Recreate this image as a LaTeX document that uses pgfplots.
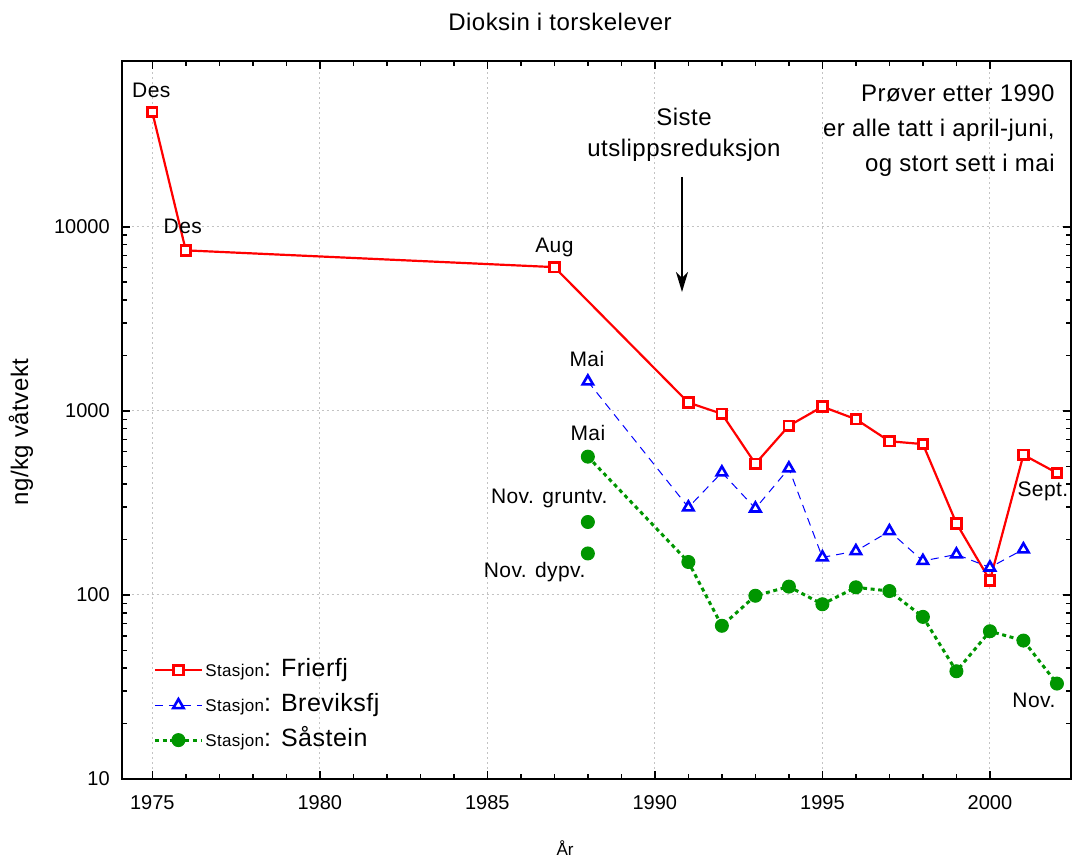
\documentclass[border=0pt]{standalone}
\usepackage{fontspec}
\setmainfont{Liberation Sans}
\newfontfamily\spaced[LetterSpace=2]{Liberation Sans}
\usepackage{pgfplots}
\pgfplotsset{compat=1.18}
\usetikzlibrary{arrows.meta}
\definecolor{fr}{RGB}{255,0,0}
\definecolor{br}{RGB}{0,0,255}
\definecolor{sa}{RGB}{0,150,0}
\definecolor{gridc}{RGB}{195,195,195}

\begin{document}
\begin{tikzpicture}
\useasboundingbox (-60.85bp,-40bp) rectangle (475.15bp,389.5bp);
\begin{axis}[
  at={(0,0)}, anchor=south west,
  scale only axis, width=474.65bp, height=359bp,
  xmin=1974.087, xmax=2002.42,
  ymode=log, ymin=10, ymax=79600,
  xtick={1975,1980,...,2000}, minor x tick num=4,
  ytick={10,100,1000,10000}, yticklabels={10,100,1000,10000},
  tick align=inside,
  major tick length=4bp, minor tick length=2.5bp,
  tick style={black, line width=0.75bp},
  axis line style={line width=1bp},
  grid=major,
  major grid style={gridc, line width=0.5bp, dash pattern=on 1bp off 1.5bp},
  tick label style={font=\fontsize{10bp}{12bp}\selectfont},
  /pgf/number format/assume math mode=true,
  x tick label style={/pgf/number format/.cd, 1000 sep={}},
  xticklabel shift=4.5bp, yticklabel shift=2.5bp,
  clip=false,
  legend style={draw=none, fill=none, at={(0.033,0.171)}, anchor=north west,
    inner sep=0pt, row sep=4bp,
    font=\spaced\fontsize{12.5bp}{14bp}\selectfont,
    nodes={inner sep=1bp, text height=9bp, text depth=2.5bp}},
  legend cell align=left,
  legend image code/.code={\draw[mark repeat=2,mark phase=2] plot coordinates {(0bp,0bp) (11.75bp,0bp) (23.5bp,0bp)};},
]
\addplot[fr, line width=1.1bp, mark=square*, mark size=2.4bp,
  mark options={solid, fill=white, draw=fr, line width=1.4bp}]
  coordinates {(1975,42000)(1976,7450)(1987,6040)(1991,1109)(1992,964)(1993,516)
  (1994,830)(1995,1054)(1996,901)(1997,684)(1998,660)(1999,245)(2000,120)(2001,577)(2002,460)};
\addlegendentry{{\fontsize{8.5bp}{10bp}\selectfont Stasjon}: Frierfj}
\addplot[br, line width=0.5bp, dash pattern=on 4bp off 3bp, mark=triangle*, mark size=3bp,
  mark options={solid, fill=white, draw=br, line width=1.3bp}]
  coordinates {(1988,1445)(1991,299)(1992,463)(1993,295)(1994,487)(1995,160)(1996,173)
  (1997,222)(1998,153)(1999,166)(2000,141)(2001,177)};
\addlegendentry{{\fontsize{8.5bp}{10bp}\selectfont Stasjon}: Breviksfj}
\addplot[sa, line width=1.5bp, dash pattern=on 2bp off 1.8bp, mark=*, mark size=3.25bp,
  mark options={solid, fill=sa, draw=sa, line width=0.5bp}]
  coordinates {(1988,564)(1991,151)(1992,68)(1993,99)(1994,111)(1995,89)(1996,110)
  (1997,105)(1998,76)(1999,38.5)(2000,63.5)(2001,56.5)(2002,33)};
\addlegendentry{{\fontsize{8.5bp}{10bp}\selectfont Stasjon}: Såstein}
\addplot[only marks, forget plot, mark=*, mark size=3.25bp,
  mark options={fill=sa, draw=sa, line width=0.5bp}]
  coordinates {(1988,249)(1988,168)};

\tikzset{lbl/.style={font=\spaced\fontsize{10.5bp}{12bp}\selectfont, inner sep=0pt}}
\node[lbl, xshift=-0.5bp, yshift=11bp] at (axis cs:1975,42000) {Des};
\node[lbl, xshift=-1.5bp, yshift=12bp] at (axis cs:1976,7450) {Des};
\node[lbl, yshift=10bp] at (axis cs:1987,6040) {Aug};
\node[lbl, xshift=-0.5bp, yshift=11bp] at (axis cs:1988,1445) {Mai};
\node[lbl, yshift=12bp] at (axis cs:1988,564) {Mai};
\node[lbl, anchor=east, xshift=10bp, yshift=12bp] at (axis cs:1988,249) {Nov. gruntv.};
\node[lbl, anchor=east, xshift=-1bp, yshift=-9.5bp] at (axis cs:1988,168) {Nov. dypv.};
\node[lbl, xshift=-7bp, yshift=-9bp] at (axis cs:2002,460) {Sept.};
\node[lbl, xshift=-11.5bp, yshift=-8.5bp] at (axis cs:2002,33) {Nov.};
\end{axis}

\tikzset{big/.style={font=\spaced\fontsize{12bp}{14bp}\selectfont, inner sep=0pt}}
\node[big] at (219.15bp,378.5bp) {Dioksin i torskelever};
\node[font=\fontsize{8.5bp}{10bp}\selectfont, inner sep=0pt] at (221.65bp,-34.5bp) {År};
\node[font=\spaced\fontsize{12bp}{14bp}\selectfont, inner sep=0pt, rotate=90] at (-50.35bp,173.5bp) {ng/kg våtvekt};
\node[big] at (281.15bp,331bp) {Siste};
\node[big] at (281.15bp,314.5bp) {utslippsreduksjon};
\draw[line width=1bp, -{Stealth[length=10bp,width=6bp,inset=3bp]}] (280.15bp,301bp) -- (280.15bp,243.5bp);
\node[big, anchor=east] at (466.65bp,343bp) {Prøver etter 1990};
\node[big, anchor=east] at (466.65bp,324.5bp) {er alle tatt i april-juni,};
\node[big, anchor=east] at (466.65bp,307bp) {og stort sett i mai};
\end{tikzpicture}
\end{document}
